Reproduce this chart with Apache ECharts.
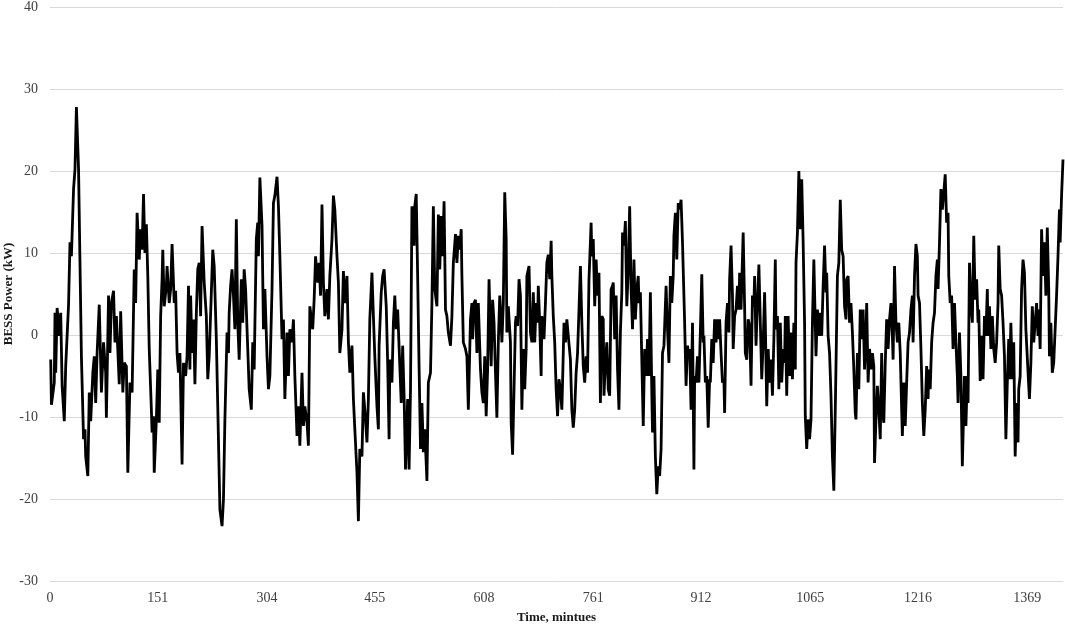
<!DOCTYPE html>
<html>
<head>
<meta charset="utf-8">
<script src="https://cdn.jsdelivr.net/npm/echarts@6/dist/echarts.min.js"></script>
<style>
html,body{margin:0;padding:0;background:#fff;}
#chart{width:1065px;height:628px;}
</style>
</head>
<body>
<div id="chart"></div>
<script>
// Time stamps (minutes) of the points
var times = [
1,2,6,7,8,10,13,15,17,20,22,26,28,30,33,35,37,40,42,44,47,49,50,53,55,57,60,62,64,66,69,72,75,78,79,82,84,86,89,91,93,97,99,102,104,107,109,112,115,118,
120,122,125,127,129,131,133,135,137,139,142,143,145,146,149,151,153,155,157,158,160,163,164,167,169,171,174,176,178,180,182,185,187,190,192,194,196,197,199,201,203,205,207,209,211,213,216,219,221,223,226,228,230,233,235,238,241,
243,245,248,250,251,253,255,257,259,261,263,265,268,270,272,274,277,279,282,284,286,289,291,292,294,297,299,301,304,306,308,311,313,315,318,320,322,325,327,329,332,334,336,339,341,343,346,348,350,353,355,357,360,362,364,
368,370,372,375,377,379,381,383,385,388,390,392,395,397,399,402,404,406,409,411,413,416,418,420,423,425,427,430,432,434,437,439,441,444,446,448,451,453,455,458,460,461,464,466,468,471,473,475,476,479,481,483,485,487,
492,494,496,498,501,503,505,507,510,511,513,515,517,519,521,523,525,528,530,533,535,537,539,542,544,546,548,550,552,554,556,558,561,563,565,568,570,572,574,576,577,579,582,584,586,589,591,592,594,596,598,600,603,605,607,609,611,613,615,
618,620,622,624,626,628,630,632,633,635,637,639,640,642,645,646,648,650,652,653,655,657,659,661,663,665,667,668,671,673,675,677,679,681,683,684,686,688,689,692,694,696,698,700,702,703,705,707,709,711,713,715,717,718,720,722,724,726,729,731,733,735,737,739,741,743,
745,747,749,751,753,755,758,759,761,763,765,767,769,771,773,775,776,778,780,782,784,786,788,789,791,793,795,797,799,801,802,804,806,808,810,812,814,816,818,820,822,824,825,827,829,831,833,835,837,839,841,843,844,846,848,850,852,854,856,858,860,863,865,867,
869,871,873,874,876,878,880,882,884,886,887,889,891,893,895,896,898,900,902,903,905,907,909,911,913,915,916,918,920,922,924,925,927,929,931,933,935,937,938,940,942,944,945,947,949,951,952,954,956,957,959,961,963,965,966,968,971,973,974,976,978,980,982,984,986,987,989,991,993,
997,999,1001,1002,1004,1006,1008,1010,1012,1014,1016,1017,1019,1021,1023,1025,1027,1029,1030,1032,1034,1036,1038,1040,1042,1044,1045,1047,1049,1051,1053,1055,1057,1058,1060,1062,1064,1066,1068,1070,1072,1073,1075,1077,1079,1081,1083,1085,1087,1088,1090,1092,1094,1096,1098,1100,1101,1103,1105,1107,1109,1111,1113,1115,1116,1118,1120,1122,1124,1126,1128,1129,1131,1133,
1135,1137,1139,1141,1143,1144,1146,1148,1150,1152,1154,1155,1157,1159,1161,1163,1165,1166,1168,1170,1172,1174,1176,1178,1180,1181,1183,1185,1187,1189,1191,1193,1194,1196,1198,1200,1202,1204,1206,1208,1209,1211,1213,1215,1216,1218,1220,1222,1224,1226,1228,1230,1231,1233,1235,1237,1239,1241,1243,1244,1246,1248,1250,1252,1254,1256,1258,1259,1261,1263,1265,1267,1269,1271,1272,1274,1276,1278,
1281,1283,1285,1286,1288,1290,1292,1294,1296,1298,1300,1301,1303,1305,1307,1309,1311,1313,1314,1316,1318,1320,1322,1324,1326,1328,1329,1331,1333,1335,1337,1339,1341,1343,1344,1346,1348,1350,1352,1354,1356,1357,1359,1361,1363,1365,1367,1369,1371,1372,1374,1376,1378,1380,1382,1384,1385,1387,1389,1391,1393,1395,1397,1399,1400,1402,1404,1406,1408,1410,1412,1414,1415,1417,1419
];

// BESS power (kW) at those times
var power = [
-3.0,-8.5,-5.8,2.7,-4.6,3.3,-0.1,2.7,-6.2,-10.5,-3.8,3.7,11.3,9.6,17.8,20.2,27.8,20.2,8.8,-2.6,-12.7,-11.5,-14.8,-17.2,-7.0,-10.5,-4.6,-2.6,-8.3,-2.2,3.7,-7.0,-0.9,-4.6,-10.1,4.8,-2.2,3.9,5.4,-0.9,2.3,-6.0,2.9,-7.0,-3.4,-3.8,-16.8,-5.8,-7.0,8.0,
3.9,14.9,9.2,12.9,10.4,17.2,10.0,13.5,7.2,-1.7,-9.1,-11.9,-9.9,-16.8,-10.3,-4.2,-10.7,2.3,6.8,10.4,3.5,6.0,8.4,3.9,5.6,11.1,3.9,5.4,-2.2,-4.6,-2.2,-15.8,-3.4,-5.0,-2.6,6.0,-4.2,4.8,-2.2,1.9,-6.0,2.7,8.0,8.8,2.3,13.3,6.4,2.3,-5.4,-2.6,5.2,10.4,8.4,-0.5,-8.7,-21.3,-23.3,
-20.0,-10.3,0.3,-2.2,2.7,6.0,8.0,4.8,0.7,14.1,1.5,-3.0,6.8,1.5,8.0,5.6,-1.7,-6.6,-9.1,-0.9,-4.2,11.7,13.7,9.6,19.2,13.3,0.7,5.6,-2.6,-6.6,-5.0,5.6,16.1,17.0,19.3,15.7,9.6,-0.5,1.9,-7.8,0.3,-5.0,0.7,-0.9,1.9,-5.0,-12.3,-8.7,-13.5,-4.6,-11.1,-8.7,-10.7,-13.5,3.5,
0.7,4.3,9.6,6.4,8.8,4.8,15.9,6.4,2.3,5.6,1.9,7.2,11.7,17.0,15.3,9.6,6.4,-2.2,0.7,7.8,3.9,7.2,-0.9,-4.6,-1.3,-7.8,-11.5,-16.8,-22.7,-13.9,-14.8,-7.0,-9.1,-13.1,-7.8,1.9,7.6,2.3,-2.6,-8.7,-11.5,-1.3,5.2,7.2,8.0,3.5,-3.4,-12.7,-3.0,-5.8,1.5,4.8,0.7,3.1,
-8.3,-1.3,-7.4,-16.4,-7.8,-16.4,-6.6,15.7,10.9,15.7,17.2,7.2,-3.8,-13.9,-8.3,-14.3,-11.5,-17.8,-5.8,-4.6,3.9,15.7,5.6,3.5,14.7,8.0,14.5,9.6,16.3,3.1,2.3,0.3,-1.3,2.3,8.8,12.3,8.8,12.1,10.4,12.9,7.2,-0.9,-1.7,-2.6,-9.1,1.9,3.9,-0.5,3.9,4.3,-2.2,3.9,-4.2,-7.0,-8.3,-2.6,-9.9,-4.2,6.8,
-3.8,4.3,1.5,-4.6,-10.1,-0.9,4.8,1.5,-0.9,3.9,17.4,11.7,0.3,3.5,-0.9,-10.7,-14.6,-6.6,1.5,2.3,1.1,6.8,4.8,-9.1,-1.7,-6.6,-1.7,7.2,8.4,0.3,-0.9,5.2,-0.9,3.9,1.5,6.0,1.5,-5.0,2.3,-0.5,3.9,8.8,9.8,6.8,11.5,7.2,2.3,-0.9,-6.6,-9.9,-5.4,-6.6,-9.1,-5.8,1.5,-0.9,1.9,-0.1,-3.0,-9.1,-11.3,-9.1,-4.6,-2.2,3.1,8.4,
1.5,-3.8,-5.8,-2.6,-4.6,6.8,13.7,9.6,11.7,3.5,9.2,4.8,7.6,-8.3,2.3,1.9,-7.4,-3.4,-0.9,-6.6,-7.4,5.6,6.0,6.4,-0.5,4.8,-4.2,-9.1,0.3,5.2,12.5,10.9,13.9,3.5,8.0,15.7,5.6,0.7,9.2,1.9,5.6,7.2,3.9,5.2,-3.0,-11.1,-1.7,-5.0,-0.5,-5.0,5.2,-7.0,-11.9,-5.0,-14.8,-19.4,-16.0,-17.2,-13.9,-2.2,-1.3,6.0,0.7,-3.4,
7.2,3.9,7.2,12.1,14.9,9.2,16.1,15.3,16.5,11.3,11.3,1.5,-6.2,-1.3,-2.6,-1.7,-9.1,1.5,-16.4,-5.0,-5.8,-2.6,-5.8,0.3,7.4,-0.9,-0.1,-5.8,-5.0,-11.3,-5.4,-5.8,-0.5,-3.4,1.9,-0.9,1.9,-0.5,1.9,-2.2,-5.8,-5.4,-9.5,1.5,3.9,0.3,6.8,10.9,4.8,-1.7,2.3,3.1,6.0,3.1,7.6,3.1,12.5,3.5,-2.2,-3.0,1.9,1.1,-6.2,4.8,3.5,7.2,-1.3,3.9,8.6,
-5.4,-0.9,5.2,1.5,-8.7,-1.7,-5.8,-3.0,-7.4,-0.5,9.2,0.7,2.3,-6.6,1.5,-5.8,-1.7,-3.4,2.3,-7.4,2.3,-5.0,0.3,-5.4,1.5,-4.2,8.8,12.5,20.0,12.9,19.0,11.3,1.5,-9.9,-13.9,-10.3,-12.7,-10.3,1.5,9.2,9.0,-2.6,3.1,-0.1,2.7,-0.1,6.0,10.9,5.2,7.6,-0.1,-2.2,-7.4,-14.8,-19.0,-9.1,-3.8,7.2,8.8,16.5,10.4,9.6,3.5,1.9,6.8,7.2,1.5,3.9,0.3,-4.2,-9.5,-10.3,-2.2,-6.6,
3.1,-0.5,3.1,-4.2,-0.1,3.9,-5.8,-1.7,-4.2,-2.2,-3.8,-15.6,-10.3,-6.2,-9.1,-12.7,-2.2,-9.1,-10.7,-3.4,1.9,-1.7,1.9,3.9,-0.1,-3.0,8.4,1.5,-0.9,1.5,-2.2,-9.1,-12.3,-5.8,-11.1,-5.8,-0.9,0.3,3.1,4.8,-0.9,7.2,11.1,9.6,4.8,3.9,-1.7,-8.3,-12.3,-9.1,-3.8,-7.8,-4.2,-6.6,-0.9,1.5,2.7,7.2,9.2,5.6,11.3,17.8,15.3,17.4,19.6,13.7,14.9,7.2,3.9,4.8,-1.7,3.9,-0.9,-5.0,-8.3,0.3,-5.0,-16.0,
-5.0,-11.1,-5.0,-8.3,8.8,3.9,1.5,12.1,4.3,6.8,1.5,3.1,-5.6,-0.1,-5.4,2.3,-0.1,5.6,-0.1,3.5,-1.7,2.3,-1.7,-3.4,-0.9,3.9,10.9,5.6,4.8,1.5,-2.6,-12.7,-5.8,-0.5,-5.4,1.5,-5.4,-0.9,-14.8,-8.3,-13.1,-6.6,-5.0,5.6,9.2,7.6,0.7,0.7,-6.2,-7.8,-3.4,3.5,-0.9,1.5,3.9,-0.1,3.1,-1.7,12.9,7.2,11.3,4.8,13.1,5.6,-2.6,1.5,-4.6,-3.4,0.7,4.8,9.6,15.3,11.3,17.0,21.4
];

// Axis tick labels
var xTickLabels = [0, 151, 304, 455, 608, 761, 912, 1065, 1216, 1369];
var yMin = -30, yMax = 40, yStep = 10;

var seriesData = times.map(function (t, i) { return [t, power[i]]; });

var chart = echarts.init(document.getElementById('chart'), null, {renderer: 'canvas'});
var serif = '"Liberation Serif", "Times New Roman", serif';
chart.setOption({
  animation: false,
  backgroundColor: '#ffffff',
  grid: {left: 50, right: 2, top: 7, bottom: 47, containLabel: false, outerBoundsMode: 'none'},
  xAxis: {
    type: 'value',
    min: 0,
    max: 1419,
    name: 'Time, mintues',
    nameLocation: 'middle',
    nameGap: 30,
    nameMoveOverlap: false,
    nameTextStyle: {fontFamily: serif, fontWeight: 'bold', fontSize: 13, color: '#1a1a1a'},
    axisLine: {show: false},
    axisTick: {show: false},
    splitLine: {show: false},
    axisLabel: {
      customValues: xTickLabels,
      formatter: function (v) { return String(v); },
      fontFamily: serif, fontSize: 14, color: '#404040', margin: 10
    }
  },
  yAxis: {
    type: 'value',
    min: yMin,
    max: yMax,
    interval: yStep,
    name: 'BESS Power (kW)',
    nameLocation: 'middle',
    nameGap: 35,
    nameRotate: 90,
    nameMoveOverlap: false,
    nameTextStyle: {fontFamily: serif, fontWeight: 'bold', fontSize: 13, color: '#1a1a1a'},
    axisLine: {show: false},
    axisTick: {show: false},
    splitLine: {show: true, lineStyle: {color: '#d9d9d9', width: 1}},
    axisLabel: {fontFamily: serif, fontSize: 14, color: '#404040', margin: 12}
  },
  series: [{
    type: 'line',
    data: seriesData,
    showSymbol: false,
    smooth: false,
    lineStyle: {color: '#000000', width: 2.8},
    emphasis: {disabled: true}
  }]
});
</script>
</body>
</html>
